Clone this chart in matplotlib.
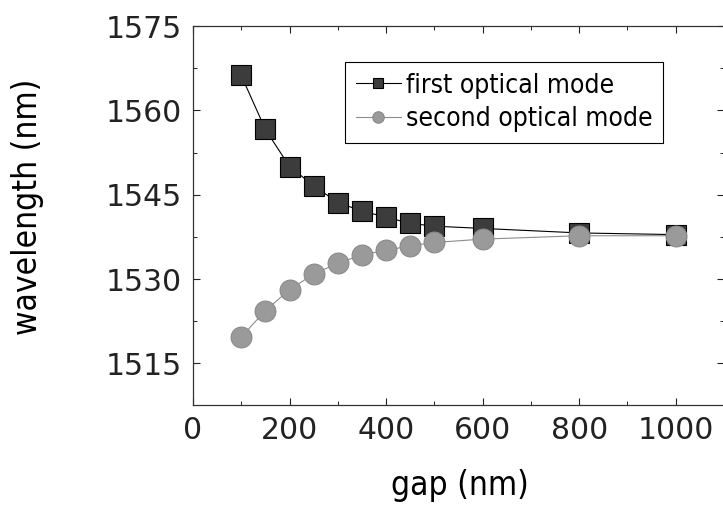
import matplotlib
matplotlib.use("Agg")
import matplotlib.pyplot as plt
from matplotlib.ticker import MultipleLocator

# gap (nm) and resonance wavelengths (nm)
gap = [100, 150, 200, 250, 300, 350, 400, 450, 500, 600, 800, 1000]
first_mode = [1566.2, 1556.6, 1550.0, 1546.6, 1543.6, 1542.1, 1541.0, 1539.9, 1539.4, 1539.0, 1538.2, 1537.9]
second_mode = [1519.7, 1524.4, 1528.1, 1530.9, 1532.8, 1534.3, 1535.1, 1535.9, 1536.5, 1537.1, 1537.7, 1537.7]

xticks = [0, 200, 400, 600, 800, 1000]
yticks = [1515, 1530, 1545, 1560, 1575]

W, H = 723, 517
fig = plt.figure(figsize=(W / 100, H / 100), dpi=100)
ax = fig.add_axes([193 / W, (H - 405) / H, (724 - 193) / W, (405 - 26) / H])

label_font = dict(family="DejaVu Sans", stretch="condensed")

ax.plot(gap, first_mode, color="black", linewidth=0.8, marker="s", markersize=14,
        markerfacecolor="#3c3c3c", markeredgecolor="black", markeredgewidth=0.8,
        label="first optical mode", zorder=3)
ax.plot(gap, second_mode, color="#8c8c8c", linewidth=0.8, marker="o", markersize=15,
        markerfacecolor="#9a9a9a", markeredgecolor="#8a8a8a", markeredgewidth=0.8,
        label="second optical mode", zorder=4)

ax.set_xlim(0, 1100)
ax.set_ylim(1507.6, 1574.5)
ax.set_xticks(xticks)
ax.set_yticks(yticks)
ax.xaxis.set_minor_locator(MultipleLocator(100))
ax.yaxis.set_minor_locator(MultipleLocator(7.5))

ax.tick_params(which="both", direction="in", top=True, right=True, colors="#222222")
ax.tick_params(which="major", length=5, width=0.8, labelsize=21.5, pad=8)
ax.tick_params(which="minor", length=3, width=0.7)
for lab in ax.get_xticklabels() + ax.get_yticklabels():
    lab.set_color("#222222")

for sp in ax.spines.values():
    sp.set_linewidth(0.9)
    sp.set_color("#333333")

ax.set_xlabel("gap (nm)", fontsize=24, **label_font)
ax.set_ylabel("wavelength (nm)", fontsize=24, **label_font)
ax.xaxis.set_label_coords((459 - 193) / 530, (405 - 485) / 379)
ax.xaxis.label.set_va("center")
ax.yaxis.set_label_coords((28 - 193) / 530, (405 - 207) / 379)
ax.yaxis.label.set_va("center")

leg = ax.legend(loc="upper left", bbox_to_anchor=((345 - 193) / 530, (405 - 62) / 379),
                borderaxespad=0, fancybox=False, framealpha=1, edgecolor="black",
                prop=dict(size=19, **label_font), markerscale=0.55,
                handlelength=1.7, handletextpad=0.2, borderpad=0.4, labelspacing=0.3)
leg.get_frame().set_linewidth(0.8)

fig.savefig("out.png", dpi=100)
